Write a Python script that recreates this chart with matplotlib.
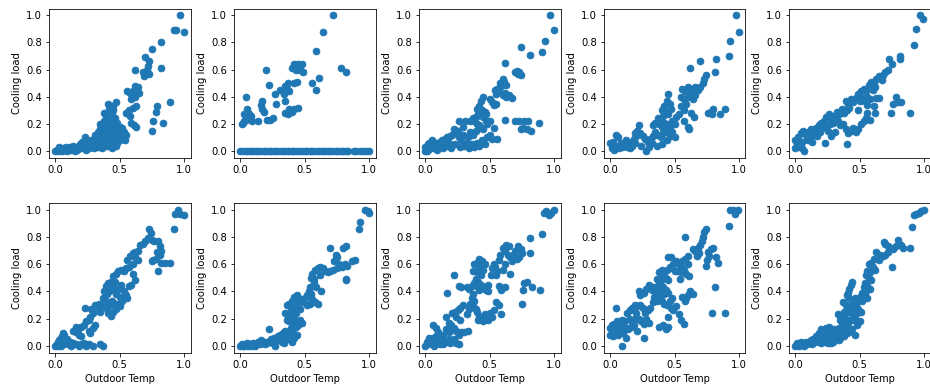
import matplotlib
matplotlib.use("Agg")
import matplotlib.pyplot as plt

x_ticks = [0.0, 0.5, 1.0]
y_ticks = [0.0, 0.2, 0.4, 0.6, 0.8, 1.0]
x_label = "Outdoor Temp"
y_label = "Cooling load"

unit_01 = [(0.97,1.00),(0.92,0.89),(0.94,0.89),(1.00,0.88),(0.82,0.80),(0.75,0.75),(0.82,0.61),(0.70,0.69),
(0.73,0.66),(0.72,0.63),(0.71,0.60),(0.68,0.58),(0.69,0.55),(0.73,0.57),(0.62,0.60),(0.62,0.48),(0.64,0.47),
(0.60,0.44),(0.58,0.43),(0.65,0.43),(0.62,0.40),(0.59,0.38),(0.63,0.33),(0.60,0.32),(0.57,0.30),(0.55,0.28),
(0.58,0.26),(0.89,0.36),(0.79,0.33),(0.78,0.29),(0.76,0.22),(0.75,0.15),(0.84,0.21),(0.61,0.19),(0.63,0.18),
(0.59,0.21),(0.47,0.36),(0.45,0.33),(0.43,0.33),(0.42,0.31),(0.40,0.28),(0.44,0.27),(0.36,0.19),(0.35,0.20),
(0.38,0.22),(0.40,0.23),(0.42,0.20),(0.45,0.18),(0.47,0.16),(0.49,0.14),(0.51,0.13),(0.53,0.14),(0.55,0.12),
(0.48,0.10),(0.46,0.07),(0.45,0.05),(0.47,0.04),(0.43,0.10),(0.41,0.12),(0.39,0.09),(0.37,0.08),(0.35,0.06),
(0.33,0.08),(0.31,0.05),(0.29,0.06),(0.27,0.04),(0.25,0.05),(0.23,0.10),(0.22,0.03),(0.20,0.02),(0.18,0.04),
(0.16,0.02),(0.14,0.04),(0.12,0.01),(0.10,0.02),(0.08,0.03),(0.06,0.02),(0.04,0.01),(0.02,0.00),(0.01,0.01),
(0.00,0.00),(0.03,0.03),(0.05,0.00),(0.07,0.01),(0.09,0.00),(0.11,0.03),(0.13,0.02),(0.15,0.00),(0.17,0.01),
(0.19,0.05),(0.21,0.07),(0.24,0.08),(0.26,0.02),(0.28,0.08),(0.30,0.09),(0.32,0.10),(0.34,0.11),(0.36,0.13),
(0.38,0.15),(0.40,0.17),(0.42,0.15),(0.44,0.13),(0.46,0.11),(0.50,0.08),(0.40,0.04),(0.42,0.06),(0.50,0.18),
(0.52,0.17),(0.48,0.21),(0.46,0.24),(0.44,0.22),(0.38,0.28),(0.41,0.35),(0.39,0.26),(0.37,0.12),(0.33,0.03),
(0.56,0.44),(0.45,0.30),(0.30,0.02),(0.28,0.03),(0.24,0.01),(0.34,0.04),(0.36,0.02),(0.38,0.05),(0.44,0.02),
(0.48,0.06),(0.52,0.10),(0.54,0.08),(0.43,0.08),(0.39,0.19),(0.33,0.14),(0.31,0.12),(0.35,0.16)]

unit_02 = [(0.72,1.00),(0.64,0.88),(0.59,0.74),(0.78,0.61),(0.82,0.58),(0.56,0.50),(0.59,0.45),(0.61,0.54),
(0.45,0.64),(0.48,0.64),(0.42,0.64),(0.40,0.61),(0.43,0.60),(0.46,0.60),(0.49,0.58),(0.44,0.62),(0.20,0.60),
(0.35,0.48),(0.37,0.50),(0.36,0.46),(0.33,0.44),(0.31,0.45),(0.34,0.42),(0.38,0.44),(0.35,0.37),(0.42,0.50),
(0.44,0.51),(0.22,0.49),(0.27,0.42),(0.28,0.35),(0.17,0.37),(0.16,0.34),(0.17,0.31),(0.18,0.29),(0.21,0.23),
(0.25,0.24),(0.23,0.23),(0.35,0.28),(0.37,0.27),(0.40,0.29),(0.42,0.31),(0.45,0.32),(0.38,0.31),(0.04,0.40),
(0.05,0.31),(0.06,0.28),(0.07,0.27),(0.08,0.26),(0.05,0.25),(0.04,0.23),(0.03,0.22),(0.01,0.20),(0.02,0.21),
(0.09,0.22),(0.14,0.22),(0.06,0.24),(0.03,0.27),
(0.00,0.00),(0.02,0.00),(0.04,0.00),(0.06,0.00),(0.08,0.00),(0.10,0.00),(0.12,0.00),(0.14,0.00),(0.16,0.00),
(0.18,0.00),(0.20,0.00),(0.22,0.00),(0.24,0.00),(0.26,0.00),(0.28,0.00),(0.30,0.00),(0.32,0.00),(0.34,0.00),
(0.36,0.00),(0.38,0.00),(0.40,0.00),(0.42,0.00),(0.44,0.00),(0.46,0.00),(0.48,0.00),(0.50,0.00),(0.52,0.00),
(0.54,0.00),(0.56,0.00),(0.58,0.00),(0.60,0.00),(0.62,0.00),(0.64,0.00),(0.66,0.00),(0.68,0.00),(0.70,0.00),
(0.72,0.00),(0.74,0.00),(0.76,0.00),(0.78,0.00),(0.80,0.00),(0.82,0.00),(0.84,0.00),(0.88,0.00),(0.90,0.00),
(0.93,0.00),(0.95,0.00),(0.98,0.00),(1.00,0.00)]

unit_03 = [(0.97,1.00),(1.00,0.89),(0.93,0.81),(0.91,0.73),(0.74,0.77),(0.81,0.71),(0.62,0.65),(0.71,0.59),
(0.72,0.57),(0.73,0.58),(0.74,0.56),(0.70,0.58),(0.60,0.53),(0.58,0.50),(0.61,0.51),(0.63,0.49),(0.59,0.48),
(0.56,0.46),(0.54,0.45),(0.57,0.44),(0.55,0.42),(0.60,0.41),(0.62,0.43),(0.63,0.40),(0.67,0.39),(0.65,0.41),
(0.52,0.36),(0.53,0.34),(0.55,0.35),(0.50,0.38),(0.45,0.40),(0.43,0.37),(0.42,0.33),(0.40,0.31),(0.44,0.30),
(0.46,0.29),(0.47,0.27),(0.45,0.25),(0.41,0.27),(0.39,0.25),(0.38,0.22),(0.37,0.24),(0.35,0.22),(0.40,0.20),
(0.42,0.19),(0.43,0.17),(0.45,0.16),(0.48,0.20),(0.50,0.22),(0.47,0.22),(0.31,0.22),(0.26,0.22),(0.29,0.18),
(0.62,0.23),(0.70,0.22),(0.73,0.22),(0.77,0.22),(0.80,0.22),(0.74,0.16),(0.76,0.17),(0.79,0.16),(0.82,0.15),
(0.88,0.21),(0.53,0.17),(0.50,0.12),(0.48,0.10),(0.52,0.09),(0.56,0.09),(0.44,0.08),(0.46,0.05),(0.42,0.04),
(0.40,0.06),(0.38,0.03),(0.36,0.05),(0.34,0.02),(0.32,0.06),(0.30,0.04),(0.28,0.08),(0.26,0.10),(0.24,0.13),
(0.22,0.16),(0.25,0.15),(0.21,0.12),(0.19,0.11),(0.17,0.10),(0.15,0.09),(0.18,0.06),(0.16,0.04),(0.14,0.02),
(0.12,0.05),(0.10,0.03),(0.08,0.06),(0.06,0.02),(0.04,0.04),(0.02,0.01),(0.00,0.03),(0.01,0.00),(0.03,0.06),
(0.05,0.08),(0.07,0.03),(0.09,0.01),(0.11,0.07),(0.13,0.08),(0.20,0.02),(0.23,0.05),(0.27,0.03),(0.29,0.12),
(0.33,0.10),(0.35,0.14),(0.37,0.12),(0.39,0.15),(0.02,0.05),(0.00,0.00)]

unit_04 = [(0.98,1.00),(1.00,0.88),(0.93,0.81),(0.92,0.70),(0.82,0.68),(0.70,0.66),(0.81,0.58),(0.62,0.61),
(0.74,0.56),(0.73,0.53),(0.72,0.50),(0.70,0.47),(0.68,0.45),(0.66,0.47),(0.64,0.43),(0.62,0.45),(0.60,0.47),
(0.58,0.44),(0.56,0.46),(0.55,0.40),(0.57,0.38),(0.60,0.40),(0.64,0.38),(0.66,0.41),(0.59,0.35),(0.55,0.33),
(0.57,0.30),(0.53,0.27),(0.51,0.25),(0.57,0.22),(0.60,0.18),(0.61,0.16),(0.45,0.42),(0.44,0.37),(0.46,0.35),
(0.42,0.33),(0.40,0.30),(0.43,0.29),(0.45,0.27),(0.47,0.31),(0.41,0.26),(0.39,0.23),(0.37,0.24),(0.35,0.21),
(0.33,0.19),(0.38,0.20),(0.40,0.18),(0.42,0.21),(0.44,0.20),(0.46,0.18),(0.48,0.22),(0.50,0.20),(0.43,0.15),
(0.41,0.13),(0.39,0.10),(0.37,0.12),(0.35,0.14),(0.33,0.11),(0.31,0.09),(0.29,0.07),(0.27,0.09),(0.25,0.11),
(0.23,0.13),(0.21,0.15),(0.19,0.13),(0.22,0.19),(0.20,0.11),(0.18,0.09),(0.16,0.07),(0.14,0.05),(0.12,0.08),
(0.10,0.04),(0.08,0.06),(0.06,0.10),(0.04,0.12),(0.02,0.07),(0.00,0.06),(0.01,0.02),(0.03,0.01),(0.05,0.04),
(0.07,0.02),(0.09,0.03),(0.11,0.05),(0.13,0.03),(0.15,0.02),(0.17,0.04),(0.19,0.06),(0.24,0.04),(0.28,0.00),
(0.30,0.03),(0.32,0.06),(0.36,0.04),(0.40,0.05),(0.44,0.08),(0.46,0.11),(0.48,0.14),(0.50,0.10),(0.80,0.31),
(0.78,0.29),(0.76,0.28),(0.79,0.27),(0.85,0.27),(0.89,0.31),(0.63,0.28),(0.65,0.25)]

unit_05 = [(0.97,1.00),(0.99,0.97),(0.94,0.90),(0.92,0.78),(0.81,0.70),(0.81,0.68),(0.73,0.68),(0.75,0.64),
(0.72,0.60),(0.70,0.58),(0.68,0.56),(0.65,0.55),(0.63,0.53),(0.67,0.52),(0.61,0.50),(0.59,0.51),(0.62,0.47),
(0.60,0.45),(0.57,0.49),(0.55,0.44),(0.53,0.46),(0.51,0.44),(0.49,0.42),(0.56,0.40),(0.58,0.38),(0.63,0.39),
(0.54,0.37),(0.52,0.39),(0.50,0.37),(0.56,0.34),(0.61,0.33),(0.56,0.28),(0.49,0.30),(0.47,0.39),(0.45,0.36),
(0.43,0.38),(0.41,0.35),(0.39,0.37),(0.42,0.32),(0.40,0.30),(0.38,0.28),(0.36,0.31),(0.34,0.27),(0.32,0.29),
(0.30,0.26),(0.28,0.24),(0.26,0.27),(0.24,0.25),(0.22,0.22),(0.20,0.21),(0.18,0.19),(0.16,0.17),(0.14,0.15),
(0.12,0.16),(0.10,0.14),(0.08,0.12),(0.06,0.15),(0.04,0.13),(0.02,0.10),(0.00,0.08),(0.01,0.05),(0.03,0.03),
(0.05,0.07),(0.07,0.00),(0.09,0.09),(0.11,0.11),(0.13,0.12),(0.15,0.13),(0.17,0.11),(0.19,0.14),(0.21,0.17),
(0.23,0.18),(0.25,0.15),(0.27,0.20),(0.29,0.21),(0.31,0.23),(0.33,0.22),(0.35,0.19),(0.37,0.20),(0.39,0.16),
(0.41,0.13),(0.43,0.15),(0.45,0.17),(0.47,0.14),(0.49,0.16),(0.51,0.20),(0.53,0.22),(0.55,0.24),(0.58,0.23),
(0.28,0.11),(0.31,0.14),(0.40,0.05),(0.23,0.06),(0.05,0.02),(0.00,0.02),(0.10,0.08),(0.13,0.07),(0.78,0.40),
(0.76,0.35),(0.80,0.36),(0.82,0.36),(0.74,0.28),(0.89,0.28),(0.65,0.39),(0.62,0.28)]

unit_06 = [(0.95,1.00),(0.93,0.97),(0.97,0.97),(1.00,0.96),(0.92,0.86),(0.73,0.86),(0.74,0.83),(0.72,0.79),
(0.75,0.78),(0.77,0.77),(0.70,0.77),(0.68,0.75),(0.66,0.74),(0.80,0.77),(0.81,0.73),(0.82,0.70),(0.79,0.69),
(0.81,0.67),(0.78,0.64),(0.75,0.62),(0.76,0.63),(0.80,0.55),(0.82,0.61),(0.85,0.61),(0.89,0.61),(0.64,0.70),
(0.62,0.69),(0.60,0.68),(0.58,0.66),(0.62,0.65),(0.64,0.63),(0.56,0.63),(0.60,0.60),(0.57,0.58),(0.55,0.57),
(0.53,0.55),(0.51,0.56),(0.49,0.55),(0.47,0.53),(0.45,0.51),(0.46,0.47),(0.43,0.47),(0.44,0.44),(0.41,0.46),
(0.39,0.44),(0.38,0.40),(0.40,0.38),(0.42,0.40),(0.45,0.41),(0.47,0.38),(0.49,0.42),(0.51,0.45),(0.53,0.40),
(0.55,0.37),(0.57,0.44),(0.59,0.45),(0.62,0.48),(0.60,0.53),(0.56,0.35),(0.52,0.33),(0.50,0.36),(0.48,0.31),
(0.46,0.29),(0.44,0.33),(0.42,0.30),(0.40,0.27),(0.38,0.31),(0.36,0.29),(0.34,0.31),(0.37,0.35),(0.39,0.33),
(0.41,0.24),(0.43,0.22),(0.45,0.25),(0.47,0.27),(0.50,0.29),(0.35,0.25),(0.33,0.28),(0.31,0.30),(0.28,0.27),
(0.29,0.24),(0.27,0.21),(0.26,0.19),(0.24,0.18),(0.22,0.15),(0.23,0.28),(0.20,0.14),(0.18,0.13),(0.16,0.14),
(0.14,0.11),(0.16,0.10),(0.18,0.08),(0.20,0.07),(0.26,0.11),(0.27,0.09),(0.29,0.13),(0.31,0.15),(0.07,0.08),
(0.06,0.09),(0.05,0.07),(0.04,0.06),(0.03,0.04),(0.02,0.03),(0.01,0.01),(0.00,0.00),(0.02,0.00),(0.04,0.00),
(0.06,0.01),(0.08,0.02),(0.10,0.01),(0.12,0.00),(0.14,0.02),(0.16,0.01),(0.18,0.00),(0.20,0.01),(0.22,0.02),
(0.24,0.00),(0.26,0.01),(0.29,0.00),(0.35,0.01),(0.37,0.00),(0.03,0.01),(0.05,0.03),(0.07,0.04),(0.09,0.05),
(0.11,0.03),(0.13,0.02),(0.06,0.05),(0.04,0.02)]

unit_07 = [(0.97,1.00),(0.99,0.99),(1.00,0.98),(0.93,0.91),(0.92,0.86),(0.82,0.73),(0.80,0.72),(0.70,0.72),
(0.74,0.67),(0.75,0.65),(0.73,0.62),(0.77,0.60),(0.79,0.58),(0.81,0.60),(0.83,0.59),(0.89,0.63),(0.87,0.62),
(0.75,0.57),(0.72,0.56),(0.70,0.55),(0.68,0.54),(0.66,0.55),(0.64,0.57),(0.62,0.58),(0.60,0.57),(0.58,0.56),
(0.56,0.53),(0.55,0.50),(0.57,0.49),(0.62,0.52),(0.82,0.49),(0.82,0.48),(0.63,0.40),(0.59,0.43),(0.57,0.46),
(0.54,0.43),(0.53,0.40),(0.55,0.38),(0.52,0.37),(0.50,0.35),(0.56,0.34),(0.58,0.32),(0.60,0.31),(0.54,0.31),
(0.52,0.30),(0.49,0.32),(0.47,0.34),(0.46,0.33),(0.44,0.37),(0.42,0.36),(0.43,0.34),(0.40,0.33),(0.38,0.31),
(0.36,0.30),(0.39,0.28),(0.41,0.27),(0.44,0.29),(0.46,0.27),(0.43,0.24),(0.41,0.22),(0.39,0.25),(0.37,0.22),
(0.35,0.24),(0.36,0.19),(0.38,0.18),(0.40,0.17),(0.42,0.20),(0.44,0.18),(0.46,0.19),(0.48,0.17),(0.45,0.15),
(0.43,0.14),(0.41,0.12),(0.39,0.13),(0.37,0.10),(0.35,0.11),(0.33,0.09),(0.31,0.08),(0.34,0.06),(0.36,0.07),
(0.38,0.05),(0.40,0.03),(0.42,0.06),(0.40,0.09),(0.30,0.05),(0.28,0.04),(0.26,0.06),(0.24,0.05),(0.22,0.12),
(0.20,0.03),(0.18,0.02),(0.16,0.04),(0.14,0.03),(0.12,0.01),(0.10,0.02),(0.08,0.01),(0.06,0.00),(0.04,0.01),
(0.02,0.00),(0.00,0.00),(0.01,0.01),(0.03,0.00),(0.05,0.02),(0.07,0.01),(0.09,0.00),(0.11,0.00),(0.13,0.02),
(0.15,0.01),(0.17,0.03),(0.19,0.01),(0.21,0.02),(0.23,0.03),(0.25,0.02),(0.27,0.00),(0.29,0.07),(0.32,0.03),
(0.34,0.02),(0.44,0.08)]

unit_08 = [(0.92,0.98),(0.94,0.99),(0.96,0.96),(0.98,0.98),(1.00,1.00),(0.91,0.82),(0.81,0.79),(0.81,0.68),
(0.60,0.72),(0.63,0.74),(0.65,0.73),(0.62,0.70),(0.64,0.67),(0.66,0.65),(0.68,0.67),(0.70,0.70),(0.72,0.73),
(0.74,0.71),(0.75,0.68),(0.73,0.65),(0.71,0.64),(0.67,0.62),(0.58,0.67),(0.57,0.63),(0.62,0.60),(0.60,0.56),
(0.66,0.53),(0.56,0.55),(0.54,0.58),(0.53,0.60),(0.52,0.57),(0.55,0.52),(0.51,0.52),(0.57,0.44),(0.59,0.41),
(0.62,0.43),(0.44,0.62),(0.42,0.64),(0.40,0.61),(0.38,0.60),(0.42,0.58),(0.46,0.60),(0.45,0.56),(0.43,0.52),
(0.40,0.54),(0.37,0.55),(0.39,0.49),(0.41,0.47),(0.43,0.45),(0.45,0.43),(0.42,0.41),(0.40,0.44),(0.38,0.46),
(0.36,0.44),(0.34,0.42),(0.32,0.43),(0.28,0.43),(0.26,0.44),(0.22,0.52),(0.17,0.39),(0.49,0.45),(0.49,0.40),
(0.47,0.41),(0.37,0.38),(0.36,0.35),(0.38,0.33),(0.35,0.31),(0.37,0.29),(0.39,0.27),(0.34,0.27),(0.32,0.23),
(0.40,0.25),(0.42,0.22),(0.44,0.20),(0.46,0.23),(0.48,0.22),(0.50,0.24),(0.52,0.21),(0.53,0.26),(0.49,0.19),
(0.45,0.18),(0.41,0.19),(0.55,0.32),(0.57,0.30),(0.59,0.23),(0.79,0.47),(0.77,0.46),(0.76,0.41),(0.83,0.43),
(0.89,0.41),(0.75,0.31),(0.29,0.30),(0.27,0.28),(0.25,0.26),(0.23,0.25),(0.21,0.24),(0.24,0.21),(0.27,0.19),
(0.16,0.21),(0.18,0.17),(0.20,0.15),(0.22,0.13),(0.24,0.11),(0.26,0.08),(0.28,0.10),(0.30,0.10),(0.33,0.11),
(0.22,0.05),(0.24,0.02),(0.26,0.01),(0.20,0.04),(0.18,0.10),(0.16,0.12),(0.14,0.08),(0.12,0.06),(0.10,0.10),
(0.08,0.13),(0.06,0.15),(0.08,0.07),(0.10,0.04),(0.12,0.02),(0.14,0.01),(0.16,0.03),(0.18,0.05),(0.06,0.06),
(0.04,0.03),(0.02,0.01),(0.00,0.00),(0.01,0.03),(0.03,0.06),(0.05,0.02),(0.07,0.00),(0.09,0.02),(0.11,0.01),
(0.13,0.04),(0.19,0.02)]

unit_09 = [(0.93,1.00),(0.95,1.00),(0.97,0.97),(0.99,1.00),(0.92,0.88),(0.74,0.86),(0.73,0.84),(0.72,0.80),
(0.58,0.80),(0.71,0.77),(0.70,0.74),(0.68,0.72),(0.66,0.70),(0.64,0.71),(0.69,0.68),(0.67,0.66),(0.78,0.71),
(0.80,0.72),(0.76,0.69),(0.77,0.66),(0.75,0.63),(0.82,0.65),(0.84,0.61),(0.74,0.59),(0.81,0.43),(0.79,0.24),
(0.89,0.24),(0.60,0.66),(0.58,0.64),(0.56,0.62),(0.60,0.60),(0.55,0.59),(0.53,0.60),(0.51,0.62),(0.49,0.60),
(0.47,0.65),(0.45,0.65),(0.57,0.56),(0.59,0.53),(0.61,0.51),(0.55,0.54),(0.52,0.55),(0.54,0.49),(0.50,0.55),
(0.48,0.57),(0.62,0.40),(0.64,0.38),(0.60,0.37),(0.59,0.35),(0.56,0.36),(0.58,0.33),(0.46,0.58),(0.44,0.56),
(0.42,0.54),(0.40,0.56),(0.38,0.54),(0.41,0.52),(0.43,0.50),(0.45,0.48),(0.40,0.49),(0.38,0.47),(0.36,0.49),
(0.39,0.45),(0.41,0.43),(0.43,0.41),(0.45,0.39),(0.42,0.38),(0.40,0.40),(0.38,0.42),(0.36,0.38),(0.34,0.36),
(0.36,0.33),(0.38,0.35),(0.40,0.33),(0.42,0.31),(0.44,0.30),(0.46,0.33),(0.48,0.35),(0.47,0.28),(0.49,0.26),
(0.51,0.29),(0.53,0.23),(0.55,0.19),(0.57,0.16),(0.45,0.21),(0.41,0.15),(0.43,0.12),(0.45,0.14),(0.38,0.14),
(0.34,0.43),(0.32,0.41),(0.30,0.45),(0.28,0.42),(0.26,0.39),(0.22,0.40),(0.23,0.37),(0.33,0.32),(0.31,0.28),
(0.29,0.26),(0.27,0.24),(0.25,0.28),(0.23,0.30),(0.21,0.29),(0.19,0.30),(0.17,0.28),(0.15,0.26),(0.13,0.24),
(0.20,0.24),(0.22,0.20),(0.24,0.18),(0.26,0.16),(0.28,0.20),(0.30,0.17),(0.19,0.20),(0.17,0.18),(0.15,0.20),
(0.11,0.18),(0.09,0.19),(0.07,0.17),(0.05,0.18),(0.03,0.16),(0.01,0.15),(0.00,0.13),(0.02,0.12),(0.04,0.28),
(0.04,0.10),(0.06,0.12),(0.08,0.14),(0.10,0.11),(0.12,0.13),(0.14,0.12),(0.16,0.14),(0.00,0.08),(0.02,0.07),
(0.04,0.09),(0.06,0.08),(0.10,0.09),(0.12,0.06),(0.26,0.06),(0.09,0.00),(0.18,0.15),(0.21,0.11)]

unit_10 = [(1.00,1.00),(0.98,0.99),(0.96,0.98),(0.94,0.97),(0.92,0.96),(0.91,0.87),(0.89,0.72),(0.84,0.72),
(0.82,0.74),(0.80,0.78),(0.78,0.73),(0.76,0.71),(0.74,0.72),(0.72,0.73),(0.70,0.75),(0.69,0.76),(0.72,0.69),
(0.70,0.67),(0.68,0.66),(0.66,0.67),(0.65,0.63),(0.63,0.69),(0.75,0.58),(0.61,0.64),(0.59,0.61),(0.57,0.60),
(0.60,0.58),(0.62,0.56),(0.58,0.54),(0.56,0.55),(0.55,0.52),(0.57,0.50),(0.59,0.48),(0.54,0.46),(0.56,0.44),
(0.58,0.42),(0.55,0.40),(0.53,0.43),(0.52,0.39),(0.54,0.37),(0.56,0.35),(0.52,0.33),(0.50,0.36),(0.48,0.33),
(0.46,0.35),(0.44,0.47),(0.43,0.45),(0.42,0.42),(0.41,0.39),(0.40,0.37),(0.42,0.35),(0.44,0.31),(0.45,0.28),
(0.47,0.30),(0.49,0.27),(0.51,0.25),(0.47,0.23),(0.45,0.21),(0.43,0.19),(0.41,0.17),(0.39,0.20),(0.37,0.22),
(0.35,0.19),(0.33,0.23),(0.39,0.30),(0.37,0.32),(0.40,0.27),(0.42,0.25),(0.38,0.25),(0.36,0.15),(0.38,0.12),
(0.40,0.14),(0.42,0.10),(0.44,0.12),(0.34,0.13),(0.32,0.10),(0.30,0.08),(0.28,0.09),(0.26,0.07),(0.24,0.09),
(0.22,0.11),(0.20,0.12),(0.18,0.09),(0.16,0.07),(0.14,0.05),(0.12,0.04),(0.10,0.02),(0.08,0.03),(0.06,0.02),
(0.04,0.03),(0.02,0.01),(0.00,0.00),(0.01,0.02),(0.03,0.00),(0.05,0.01),(0.07,0.00),(0.09,0.01),(0.11,0.02),
(0.13,0.01),(0.15,0.03),(0.17,0.04),(0.19,0.06),(0.21,0.05),(0.23,0.03),(0.25,0.02),(0.27,0.04),(0.29,0.03),
(0.31,0.05),(0.33,0.07),(0.35,0.06),(0.24,0.13),(0.26,0.14),(0.30,0.12),(0.46,0.08),(0.48,0.15),(0.50,0.18),
(0.47,0.18),(0.20,0.02),(0.18,0.03),(0.22,0.06),(0.28,0.02),(0.34,0.04),(0.38,0.07),(0.36,0.10),(0.40,0.09)]

units = [unit_01, unit_02, unit_03, unit_04, unit_05,
         unit_06, unit_07, unit_08, unit_09, unit_10]

W, H = 930, 387
fig = plt.figure(figsize=(W / 72, H / 72), dpi=72)

ax_w = 141.5
row_tops = [8.5, 203.0]
row_bottoms = [157.8, 352.5]
for i, pts in enumerate(units):
    r, c = divmod(i, 5)
    left = 49.0 + 185.0 * c
    top, bot = row_tops[r], row_bottoms[r]
    ax = fig.add_axes([left / W, (H - bot) / H, ax_w / W, (bot - top) / H])
    xs = [p[0] for p in pts]
    ys = [p[1] for p in pts]
    ax.scatter(xs, ys, s=44, color="#1f77b4")
    ax.set_xlim(-0.05, 1.05)
    ax.set_ylim(-0.05, 1.05)
    ax.set_xticks(x_ticks)
    ax.set_yticks(y_ticks)
    ax.set_ylabel(y_label)
    if r == 1:
        ax.set_xlabel(x_label)

fig.savefig("out.png", dpi=72)
